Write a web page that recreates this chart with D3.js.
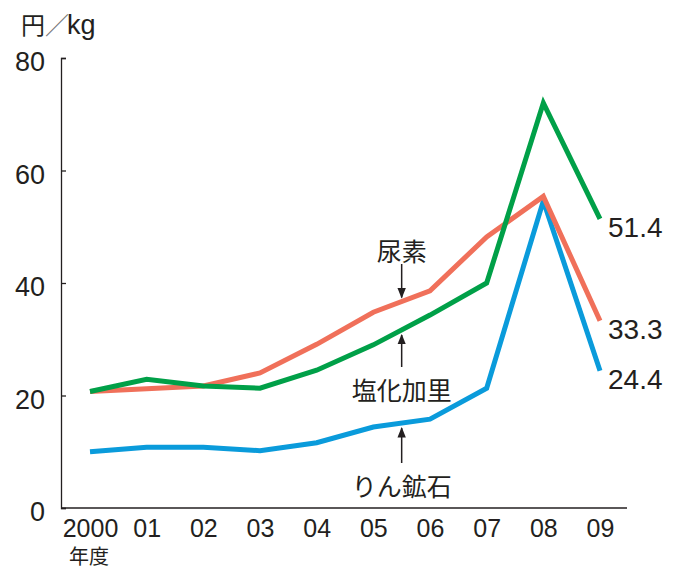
<!DOCTYPE html>
<html>
<head>
<meta charset="utf-8">
<script src="https://cdn.jsdelivr.net/npm/d3@7"></script>
<style>
  body { margin: 0; background: #fff; }
  svg text { fill: #231f20; }
  .num { font-family: "Liberation Sans", Arial, sans-serif; }
  .jp { font-family: "Noto Sans CJK JP", sans-serif; }
</style>
</head>
<body>
<div id="chart"></div>
<script>
// data (円/kg, 年度)
const years = ["2000", "01", "02", "03", "04", "05", "06", "07", "08", "09"];
const urea = [20.7, 21.2, 21.7, 24.0, 29.1, 34.8, 38.6, 48.2, 55.4, 33.3];
const potash = [20.7, 22.9, 21.7, 21.3, 24.5, 29.0, 34.3, 40.0, 72.0, 51.4];
const phosphate = [10.0, 10.8, 10.8, 10.2, 11.6, 14.4, 15.8, 21.3, 54.6, 24.4];
const yTicks = [0, 20, 40, 60, 80];

const seriesNames = ["りん鉱石", "尿素", "塩化加里"];
const seriesColors = ["#0a9bdb", "#f0705a", "#00a048"];
const seriesValues = [phosphate, urea, potash];

let width = 680, height = 570;

let svg = d3.select("#chart")
  .append("svg")
  .attr("width", width)
  .attr("height", height);

let x = d3.scaleLinear()
  .domain([0, years.length - 1])
  .range([90, 600]);

let y = d3.scaleLinear()
  .domain([0, 80])
  .range([508, 58]);

// y axis
let yAxis = svg.append("g")
  .attr("transform", translate(61, 0))
  .call(d3.axisLeft(y)
    .tickValues(yTicks)
    .tickSize(-5)
    .tickSizeOuter(-5)
    .tickPadding(16));
yAxis.selectAll("path, line").attr("stroke", "#231f20").attr("stroke-width", 1.3);
yAxis.selectAll("text")
  .attr("class", "num")
  .style("font-size", "27px")
  .attr("dy", "0.48em");

// x axis
svg.append("line")
  .attr("x1", 61).attr("x2", 627)
  .attr("y1", y(0)).attr("y2", y(0))
  .attr("stroke", "#231f20")
  .attr("stroke-width", 1.5);

let xAxis = svg.append("g")
  .attr("transform", translate(0, y(0)))
  .call(d3.axisBottom(x)
    .tickValues(d3.range(years.length))
    .tickFormat(i => years[i])
    .tickSize(0)
    .tickPadding(11));
xAxis.select(".domain").remove();
xAxis.selectAll("text")
  .attr("class", "num")
  .style("font-size", "25px");

svg.append("text")
  .attr("class", "jp")
  .attr("x", 89).attr("y", 564)
  .attr("text-anchor", "middle")
  .style("font-size", "20px")
  .text("年度");

svg.append("text")
  .attr("x", 21).attr("y", 34)
  .html('<tspan class="jp" style="font-size:24px">円</tspan><tspan class="jp" style="fill:#777;font-size:24px">／</tspan><tspan class="num" dx="-2" style="font-size:27px">kg</tspan>');

// lines
let line = d3.line()
  .x((d, i) => x(i))
  .y(d => y(d));

svg.selectAll(".series")
  .data(seriesValues)
  .enter()
  .append("path")
  .attr("class", "series")
  .attr("d", d => line(d))
  .attr("fill", "none")
  .attr("stroke", (d, i) => seriesColors[i])
  .attr("stroke-width", 5)
  .attr("stroke-linejoin", "miter")
  .attr("stroke-miterlimit", 10);

// end values
let f = d3.format(".1f");
svg.selectAll(".endlabel")
  .data(seriesValues)
  .enter()
  .append("text")
  .attr("class", "num endlabel")
  .attr("x", x(years.length - 1) + 8)
  .attr("y", d => y(d[d.length - 1]) + 8)
  .attr("dy", "0.36em")
  .style("font-size", "28px")
  .text(d => f(d[d.length - 1]));

// annotations with arrows (between 05 and 06)
const annX = 5.5;
function valueAt(arr, t) {
  let i = Math.floor(t);
  return arr[i] + (arr[i + 1] - arr[i]) * (t - i);
}

svg.append("defs").append("marker")
  .attr("id", "arrow")
  .attr("viewBox", "0 0 10 10")
  .attr("refX", 9).attr("refY", 5)
  .attr("markerWidth", 7).attr("markerHeight", 7)
  .attr("orient", "auto-start-reverse")
  .append("path")
  .attr("d", "M0,1 L10,5 L0,9 Z")
  .attr("fill", "#231f20");

let ax = x(annX);
let annotations = [
  { name: seriesNames[1], values: urea, above: true, labelY: 252 },
  { name: seriesNames[2], values: potash, above: false, labelY: 391 },
  { name: seriesNames[0], values: phosphate, above: false, labelY: 487 }
];

annotations.forEach(function(a) {
  let tip = y(valueAt(a.values, annX));
  let y1, y2;
  if (a.above) {
    y1 = a.labelY + 12;
    y2 = tip - 4;
  } else {
    y1 = a.labelY - 24;
    y2 = tip + 5;
  }
  svg.append("line")
    .attr("x1", ax).attr("x2", ax)
    .attr("y1", y1).attr("y2", y2)
    .attr("stroke", "#231f20")
    .attr("stroke-width", 1.5)
    .attr("marker-end", "url(#arrow)");
  svg.append("text")
    .attr("class", "jp")
    .attr("x", ax)
    .attr("y", a.labelY)
    .attr("dy", "0.36em")
    .attr("text-anchor", "middle")
    .style("font-size", "25px")
    .text(a.name);
});

function translate(x, y) {
  return "translate(" + x + "," + y + ")";
}
</script>
</body>
</html>
